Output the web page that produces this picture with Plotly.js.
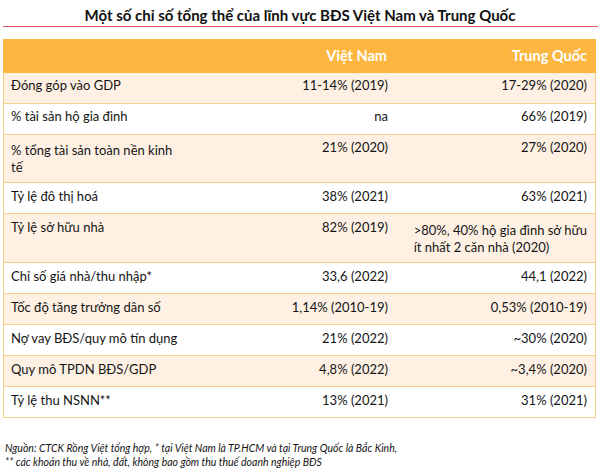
<!DOCTYPE html>
<html>
<head>
<meta charset="utf-8">
<script src="https://cdn.plot.ly/plotly-3.0.1.min.js"></script>
<style>html,body{margin:0;padding:0;background:#fff}#chart{width:600px;height:471px}</style>
</head>
<body>
<div id="chart"></div>
<script>
const headers = ['', 'Việt Nam', 'Trung Quốc'];
const indicators = ['Đóng góp vào GDP', '% tài sản hộ gia đình', '% tổng tài sản toàn nền kinh<br>tế', 'Tỷ lệ đô thị hoá', 'Tỷ lệ sở hữu nhà', 'Chỉ số giá nhà/thu nhập*', 'Tốc độ tăng trưởng dân số', 'Nợ vay BĐS/quy mô tín dụng', 'Quy mô TPDN BĐS/GDP', 'Tỷ lệ thu NSNN**'];
const vietnam = ['11-14% (2019)', 'na', '21% (2020)', '38% (2021)', '82% (2019)', '33,6 (2022)', '1,14% (2010-19)', '21% (2022)', '4,8% (2022)', '13% (2021)'];
const china = ['17-29% (2020)', '66% (2019)', '27% (2020)', '63% (2021)', '>80%, 40% hộ gia đình sở hữu<br>ít nhất 2 căn nhà (2020)', '44,1 (2022)', '0,53% (2010-19)', '~30% (2020)', '~3,4% (2020)', '31% (2021)'];
const titleText = 'Một số chỉ số tổng thể của lĩnh vực BĐS Việt Nam và Trung Quốc';
const noteText = 'Nguồn: CTCK Rồng Việt tổng hợp, * tại Việt Nam là TP.HCM và tại Trung Quốc là Bắc Kinh,<br>** các khoản thu về nhà, đất, không bao gồm thu thuế doanh nghiệp BĐS';

const FONT = 'Lato, "Open Sans", sans-serif';
const ORANGE = '#FDB640';
const CREAM = '#FEF1E4';
const LINE = '#F8CE8C';
const TXT = '#141414';
const FS = 13;

const rowFills = indicators.map((_, i) => i % 2 === 0 ? CREAM : '#FFFFFF');
// background grid: one column, so no inner vertical rules; line counts per row mirror the text table
const spacer = indicators.map((_, i) => {
  const n = Math.max(indicators[i].split('<br>').length, vietnam[i].split('<br>').length, china[i].split('<br>').length);
  return Array(n).fill(' ').join('<br>');
});
const domain = {x: [3/600, 595/600], y: [0, 1 - 39/471]};

const bg = {
  type: 'table', domain: domain,
  header: {values: [''], fill: {color: ORANGE}, line: {color: ORANGE, width: 1}, height: 33, font: {family: FONT, size: 14, color: '#fff'}},
  cells: {values: [spacer], fill: {color: [rowFills]}, line: {color: LINE, width: 1}, height: 31, font: {family: FONT, size: FS, color: TXT}}
};
const fg = {
  type: 'table', domain: domain, columnwidth: [215, 178, 199],
  header: {values: headers.map(h => '<b>' + h + '</b>'), align: ['left', 'right', 'right'], fill: {color: 'rgba(0,0,0,0)'}, line: {width: 0, color: 'rgba(0,0,0,0)'}, height: 33, font: {family: FONT, size: 14.5, color: '#fff'}},
  cells: {values: [indicators, vietnam, china], align: ['left', 'right', 'right'], fill: {color: 'rgba(0,0,0,0)'}, line: {width: 0, color: 'rgba(0,0,0,0)'}, height: 31, font: {family: FONT, size: FS, color: TXT}}
};

const layout = {
  width: 600, height: 471,
  margin: {l: 0, r: 0, t: 0, b: 0},
  paper_bgcolor: '#fff',
  title: {text: '<b>' + titleText + '</b>', x: 0.5, xanchor: 'center', y: 1 - 16/471, yanchor: 'middle', font: {family: FONT, size: 15, color: '#111'}},
  shapes: [{type: 'line', xref: 'paper', yref: 'paper', x0: 3/600, x1: 598/600, y0: 1 - 26.5/471, y1: 1 - 26.5/471, line: {color: '#E05A60', width: 1.2}}],
  annotations: [{text: '<i>' + noteText + '</i>', xref: 'paper', yref: 'paper', x: 3/600, y: 1 - 440/471, xanchor: 'left', yanchor: 'top', align: 'left', showarrow: false, font: {family: FONT, size: 10.5, color: TXT}}]
};

Plotly.newPlot('chart', [bg, fg], layout, {displayModeBar: false, staticPlot: true});
</script>
</body>
</html>
